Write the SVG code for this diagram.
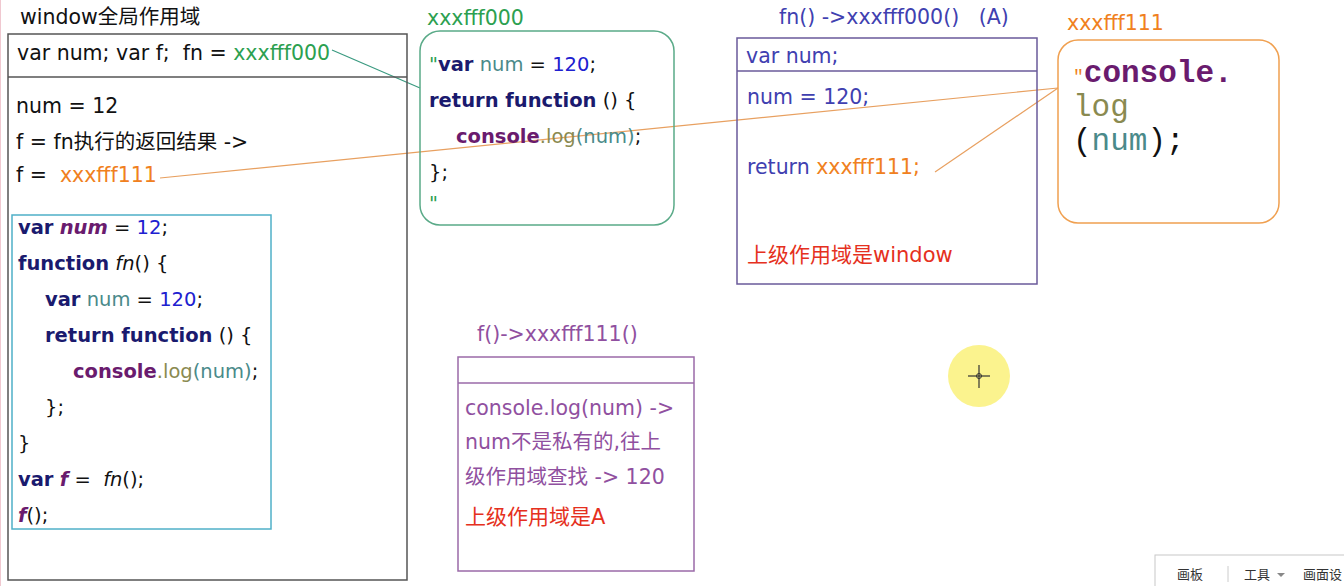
<svg xmlns="http://www.w3.org/2000/svg" width="1344" height="586" viewBox="0 0 1344 586" xml:space="preserve">
<style>
text{font-family:"DejaVu Sans","Noto Sans CJK SC",sans-serif;font-size:20.5px;white-space:pre}
.c{font-size:19.5px}
.t{fill:#111}
.box{fill:none;stroke:#555;stroke-width:1.5}
.b{font-weight:bold}
.kw{fill:#1a1a6e;font-weight:bold}
.pu{fill:#6a1b6e}
.num{fill:#2020d0}
.id{fill:#4a8a8a}
.lg{fill:#8a8a50}
.gr{fill:#2ca050}
.or{fill:#f08020}
.bl{fill:#4040b0}
.rd{fill:#e53020;font-size:21px}
.vi{fill:#9050a0}
.mono{font-family:"Liberation Mono",monospace;font-size:31px}
.tb{font-size:13px;fill:#333}
</style>
<rect width="1344" height="586" fill="#fff"/>
<line x1="0.5" y1="0" x2="0.5" y2="586" stroke="#f0c8d0" stroke-width="1"/>

<g id="connectors" fill="none" stroke-width="1.2">
<line x1="332" y1="50" x2="420" y2="88" stroke="#3a9a80"/>
<line x1="160" y1="178" x2="1058" y2="88" stroke="#e8a060"/>
<line x1="935" y1="172" x2="1058" y2="88" stroke="#e8a060"/>
</g>

<g id="window">
<text x="20" y="24" class="t">window全局作用域</text>
<rect x="8" y="34" width="399" height="546" class="box"/>
<line x1="8" y1="77" x2="407" y2="77" stroke="#555" stroke-width="1.5"/>
<text x="17" y="60" class="t">var num; var f;  fn = <tspan class="gr">xxxfff000</tspan></text>
<text x="16" y="113" class="t">num = 12</text>
<text x="16" y="149" class="t">f = fn执行的返回结果 -&gt;</text>
<text x="16" y="182" class="t">f =  <tspan class="or">xxxfff111</tspan></text>
</g>

<g id="code">
<rect x="12" y="215" width="259" height="314" fill="none" stroke="#4fb0c8" stroke-width="1.5"/>
<text x="18" y="234" class="c"><tspan class="kw">var</tspan> <tspan class="pu b" font-style="italic">num</tspan><tspan class="t"> = </tspan><tspan class="num">12</tspan><tspan class="t">;</tspan></text>
<text x="18" y="270" class="c"><tspan class="kw">function</tspan> <tspan class="t" font-style="italic">fn</tspan><tspan class="t">() {</tspan></text>
<text x="45" y="306" class="c"><tspan class="kw">var</tspan> <tspan class="id">num</tspan><tspan class="t"> = </tspan><tspan class="num">120</tspan><tspan class="t">;</tspan></text>
<text x="45" y="342" class="c"><tspan class="kw">return function</tspan><tspan class="t"> () {</tspan></text>
<text x="73" y="378" class="c"><tspan class="pu b">console</tspan><tspan class="lg">.log</tspan><tspan class="id">(num)</tspan><tspan class="t">;</tspan></text>
<text x="45" y="414" class="c t">};</text>
<text x="18" y="450" class="c t">}</text>
<text x="18" y="486" class="c"><tspan class="kw">var</tspan> <tspan class="pu b" font-style="italic">f</tspan><tspan class="t"> =  </tspan><tspan class="t" font-style="italic">fn</tspan><tspan class="t">();</tspan></text>
<text x="18" y="522" class="c"><tspan class="pu b" font-style="italic">f</tspan><tspan class="t">();</tspan></text>
</g>

<g id="heap000">
<text x="427" y="25" class="gr">xxxfff000</text>
<rect x="420" y="31" width="254" height="194" rx="20" fill="none" stroke="#5aaa88" stroke-width="1.5"/>
<text x="429" y="71" class="c"><tspan class="gr">"</tspan><tspan class="kw">var</tspan> <tspan class="id">num</tspan><tspan class="t"> = </tspan><tspan class="num">120</tspan><tspan class="t">;</tspan></text>
<text x="429" y="107" class="c"><tspan class="kw">return function</tspan><tspan class="t"> () {</tspan></text>
<text x="456" y="143" class="c"><tspan class="pu b">console</tspan><tspan class="lg">.log</tspan><tspan class="id">(num)</tspan><tspan class="t">;</tspan></text>
<text x="429" y="179" class="c t">};</text>
<text x="429" y="210" class="c gr">"</text>
</g>

<g id="scopeA">
<text x="779" y="24" class="bl">fn() -&gt;xxxfff000()   (A)</text>
<rect x="737" y="38" width="300" height="246" fill="none" stroke="#6a5a9a" stroke-width="1.5"/>
<line x1="737" y1="71" x2="1037" y2="71" stroke="#6a5a9a" stroke-width="1.5"/>
<text x="746" y="63" class="bl">var num;</text>
<text x="747" y="104" class="bl">num = 120;</text>
<text x="747" y="174"><tspan class="bl">return </tspan><tspan class="or">xxxfff111;</tspan></text>
<text x="747" y="262" class="rd">上级作用域是window</text>
</g>

<g id="heap111">
<text x="1067" y="30" class="or">xxxfff111</text>
<rect x="1058" y="40" width="221" height="183" rx="20" fill="none" stroke="#f0a050" stroke-width="1.5"/>
<text x="1073" y="82" class="mono"><tspan class="or" font-size="18">"</tspan><tspan class="pu b">console.</tspan></text>
<text x="1073" y="116" class="mono lg">log</text>
<text x="1073" y="150" class="mono"><tspan class="t">(</tspan><tspan class="id">num</tspan><tspan class="t">);</tspan></text>
</g>

<g id="scopeF">
<text x="477" y="341" class="vi">f()-&gt;xxxfff111()</text>
<rect x="458" y="357" width="236" height="214" fill="none" stroke="#9a6aa8" stroke-width="1.5"/>
<line x1="458" y1="383" x2="694" y2="383" stroke="#9a6aa8" stroke-width="1.5"/>
<text x="465" y="415" class="vi">console.log(num) -&gt;</text>
<text x="465" y="449" class="vi">num不是私有的,往上</text>
<text x="465" y="484" class="vi">级作用域查找 -&gt; 120</text>
<text x="465" y="524" class="rd">上级作用域是A</text>
</g>

<g id="cursor">
<circle cx="979" cy="376" r="31" fill="#fbf38e"/>
<line x1="968" y1="376" x2="990" y2="376" stroke="#333" stroke-width="1.2"/>
<line x1="979" y1="365" x2="979" y2="388" stroke="#333" stroke-width="1.2"/>
<circle cx="979" cy="376" r="2.5" fill="none" stroke="#333"/>
</g>

<g id="toolbar">
<rect x="1155" y="555" width="195" height="40" fill="#fff" stroke="#c8c8c8"/>
<text x="1177" y="579" class="tb">画板</text>
<line x1="1228" y1="566" x2="1228" y2="582" stroke="#ccc"/>
<text x="1244" y="579" class="tb">工具</text>
<path d="M1277 573 L1285 573 L1281 577 Z" fill="#888"/>
<text x="1303" y="579" class="tb">画面设</text>
</g>
</svg>
